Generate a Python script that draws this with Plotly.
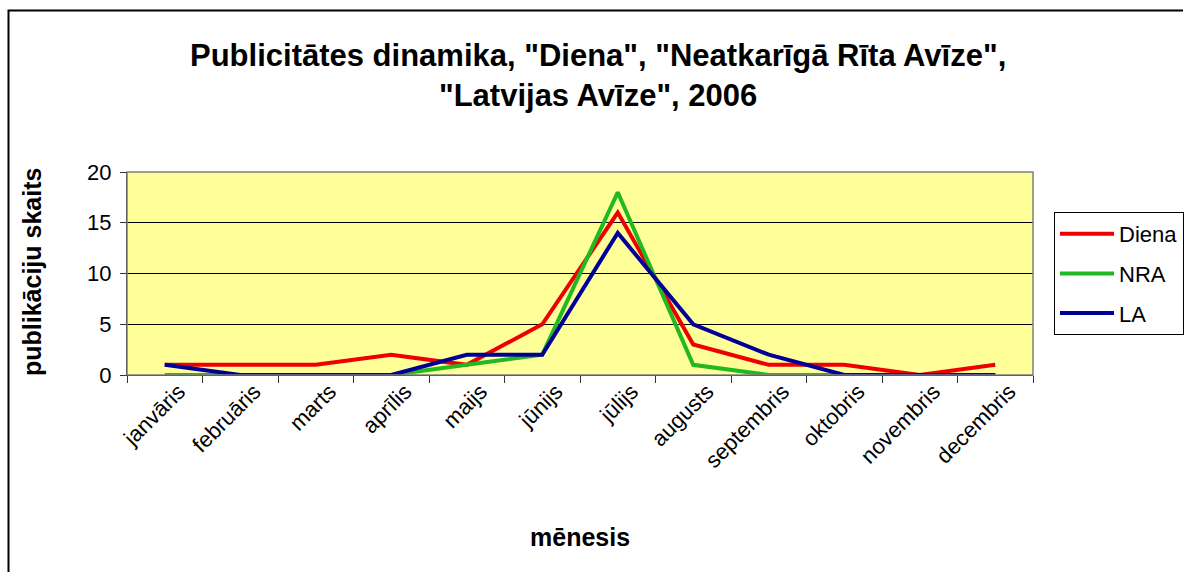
import plotly.graph_objects as go

months = ["janvāris", "februāris", "marts", "aprīlis", "maijs", "jūnijs", "jūlijs",
          "augusts", "septembris", "oktobris", "novembris", "decembris"]
diena = [1, 1, 1, 2, 1, 5, 16, 3, 1, 1, 0, 1]
nra = [0, 0, 0, 0, 1, 2, 18, 1, 0, 0, 0, 0]
la = [1, 0, 0, 0, 2, 2, 14, 5, 2, 0, 0, 0]
series_names = ["Diena", "NRA", "LA"]
series_colors = ["#EE0000", "#22B822", "#000099"]

W, H = 1184, 573
L, R, T, B = 127, 1033, 172, 375
pw, ph = R - L, B - T

fig = go.Figure()
for name, vals, col in zip(series_names, [diena, nra, la], series_colors):
    fig.add_trace(go.Scatter(x=months, y=vals, mode="lines", name=name,
                             legendgroup=name,
                             line=dict(color=col, width=4)))

font = "Arial, 'Liberation Sans', sans-serif"

def px_x(x):
    return (x - L) / pw

def px_y(y):
    return (B - y) / ph

border_path = "M {a},{b} L {c},{d} L {e},{f}".format(
    a=px_x(8.5), b=px_y(572), c=px_x(8.5), d=px_y(10.5), e=px_x(1183), f=px_y(10.5))

fig.update_layout(
    width=W, height=H,
    margin=dict(l=L, r=W - R, t=T, b=H - B, pad=0, autoexpand=False),
    paper_bgcolor="white",
    plot_bgcolor="#FFFF99",
    font=dict(family=font, size=22, color="black"),
    showlegend=True,
    legend=dict(x=px_x(1054), y=px_y(212), xanchor="left", yanchor="top",
                bordercolor="black", borderwidth=1, bgcolor="white",
                font=dict(size=22), tracegroupgap=8, itemwidth=54,
                entrywidth=140),
    xaxis=dict(type="category", range=[-0.5, 11.5], tickangle=-45,
               ticks="outside", ticklen=7, tickcolor="#333", tickson="boundaries",
               showgrid=False, showline=True, linecolor="black", linewidth=1,
               tickfont=dict(size=22), ticklabelshift=14, ticklabelstandoff=-6,
               automargin=False),
    yaxis=dict(range=[0, 20], dtick=5, ticks="outside", ticklen=6, tickcolor="#333",
               showgrid=True, gridcolor="black", gridwidth=1,
               showline=True, linecolor="black", linewidth=1,
               zeroline=False, tickfont=dict(size=22), ticklabelstandoff=4,
               automargin=False),
    shapes=[
        dict(type="rect", xref="paper", yref="paper", x0=0, x1=1, y0=0, y1=1,
             line=dict(color="#808080", width=1.5), layer="above"),
        dict(type="path", xref="paper", yref="paper", path=border_path,
             line=dict(color="black", width=2)),
    ],
    annotations=[
        dict(text="<b>Publicitātes dinamika, \"Diena\", \"Neatkarīgā Rīta Avīze\",<br>\"Latvijas Avīze\", 2006</b>",
             xref="paper", yref="paper", x=px_x(598), y=px_y(76),
             xanchor="center", yanchor="middle", showarrow=False,
             font=dict(size=31, family=font), align="center"),
        dict(text="<b>mēnesis</b>", xref="paper", yref="paper",
             x=px_x(580), y=px_y(537), xanchor="center", yanchor="middle",
             showarrow=False, font=dict(size=25, family=font)),
        dict(text="<b>publikāciju skaits</b>", xref="paper", yref="paper",
             x=px_x(32), y=px_y(272), xanchor="center", yanchor="middle",
             textangle=-90, showarrow=False, font=dict(size=25, family=font)),
    ],
)

fig.write_html("out.html", config={"displayModeBar": False},
               post_script="document.body.style.margin='0';document.body.style.overflow='hidden';")
